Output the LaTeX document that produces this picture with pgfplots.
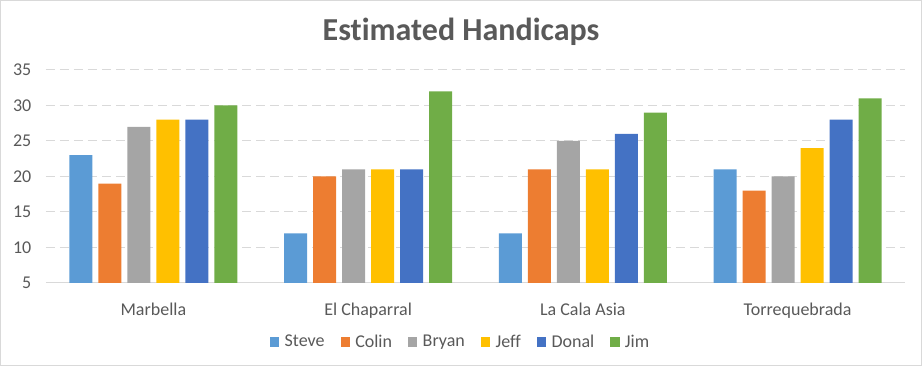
\documentclass[border=0pt]{standalone}
\usepackage{pgfplots}
\pgfplotsset{compat=1.18}
\usepackage{fontspec}
\setmainfont{Carlito}[Ligatures=NoCommon]
\definecolor{cSteve}{HTML}{5B9BD5}
\definecolor{cColin}{HTML}{ED7D31}
\definecolor{cBryan}{HTML}{A5A5A5}
\definecolor{cJeff}{HTML}{FFC000}
\definecolor{cDonal}{HTML}{4472C4}
\definecolor{cJim}{HTML}{70AD47}
\definecolor{txt}{HTML}{595959}
\definecolor{grid}{HTML}{D9D9D9}
\begin{document}
\begin{tikzpicture}
\useasboundingbox (-34.5pt,-62.25pt) rectangle (657pt,212.25pt);
\draw[color=grid, line width=0.75pt] (-34.1pt,-61.85pt) rectangle (656.6pt,211.85pt);
\node[text=txt, font=\fontsize{24}{28}\selectfont\bfseries] at (311.25pt,188.25pt) {Estimated Handicaps};
\begin{axis}[
  scale only axis,
  width=644.25pt, height=159.75pt,
  xmin=-0.5, xmax=3.5,
  ymin=5, ymax=35,
  ytick={5,10,...,35},
  xtick={0,1,2,3},
  xticklabels={Marbella,El Chaparral,La Cala Asia,Torrequebrada},
  axis line style={draw=none},
  axis x line*=bottom,
  x axis line style={draw=grid, line width=0.75pt},
  major tick length=0pt,
  ymajorgrids,
  grid style={draw=grid, line width=0.75pt, dash pattern=on 7pt off 3.5pt},
  ticklabel style={text=txt, font=\fontsize{13.5}{16}\selectfont},
  /pgf/number format/assume math mode=true,
  yticklabel style={xshift=-7.5pt},
  xticklabel style={yshift=-11.5pt},
  ybar, bar width=17.25pt,
  legend style={draw=none, at={(0.4831,-0.277)}, anchor=center, legend columns=6,
    font=\fontsize{13.5}{16}\selectfont, text=txt,
    /tikz/every even column/.append style={column sep=10pt}},
  legend image code/.code={\fill[#1] (0pt,-3.5pt) rectangle (7pt,3.5pt); \path (9pt,0pt);},
]
\addplot[fill=cSteve, draw=none, bar shift=-54.375pt] coordinates {(0,23) (1,12) (2,12) (3,21)};
\addplot[fill=cColin, draw=none, bar shift=-32.625pt] coordinates {(0,19) (1,20) (2,21) (3,18)};
\addplot[fill=cBryan, draw=none, bar shift=-10.875pt] coordinates {(0,27) (1,21) (2,25) (3,20)};
\addplot[fill=cJeff, draw=none, bar shift=10.875pt] coordinates {(0,28) (1,21) (2,21) (3,24)};
\addplot[fill=cDonal, draw=none, bar shift=32.625pt] coordinates {(0,28) (1,21) (2,26) (3,28)};
\addplot[fill=cJim, draw=none, bar shift=54.375pt] coordinates {(0,30) (1,32) (2,29) (3,31)};
\legend{Steve,Colin,Bryan,Jeff,Donal,Jim}
\end{axis}
\end{tikzpicture}
\end{document}
